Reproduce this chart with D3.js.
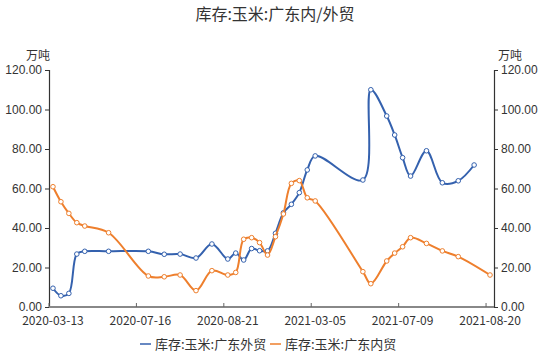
<!DOCTYPE html>
<html>
<head>
<meta charset="utf-8">
<script src="https://cdn.jsdelivr.net/npm/d3@7"></script>
<style>
  body { margin: 0; background: #fff; }
  svg { font-family: "Noto Sans CJK SC", "Noto Sans", sans-serif; }
</style>
</head>
<body>
<div id="chart"></div>
<script>
// categories: 56 dates on a category axis, only every 11th one is labelled
var nCategories = 56;
var tickIndex = [0, 11, 22, 33, 44, 55];
var tickLabels = ["2020-03-13", "2020-07-16", "2020-08-21", "2021-03-05", "2021-07-09", "2021-08-20"];
var yTicks = [0, 20, 40, 60, 80, 100, 120];

var seriesNames = ["库存:玉米:广东外贸", "库存:玉米:广东内贸"];
var seriesColors = ["#3461ae", "#ee7f2d"];

// 外贸 (blue), indexed by category, null = no reading
var foreignTrade = [9.5, 5.7, 6.9, 26.8, 28.2, null, null, 28.2, null, null,
  null, null, 28.2, null, 26.7, null, 26.8, null, 24.8, null,
  31.9, null, 24.3, 27.3, 23.8, 29.6, 28.5, 28.4, 37.3, 47.7,
  52.0, 57.9, 69.4, 76.5, null, null, null, null, null, 64.3,
  110.0, null, 96.7, 87.1, 75.6, 66.3, null, 79.1, null, 62.9,
  null, 63.9, null, 71.9, null, null];

// 内贸 (orange)
var domesticTrade = [60.9, 53.3, 47.4, 42.7, 41.0, null, null, 37.6, null, null,
  null, null, 15.7, null, 15.3, null, 16.2, null, 8.3, null,
  18.4, null, 16.2, 17.5, 34.3, 35.1, 32.6, 26.3, 35.6, 47.1,
  62.6, 64.0, 55.3, 53.7, null, null, null, null, null, 17.9,
  11.8, null, 23.3, 27.3, 30.5, 35.1, null, 32.2, null, 28.4,
  null, 25.5, null, null, null, 16.2];

var width = 550, height = 352;
var margin = { left: 49, right: 56, top: 70, bottom: 45 };
var x0 = margin.left, x1 = width - margin.right;
var y0 = height - margin.bottom, y1 = margin.top;

var svg = d3.select("#chart").append("svg")
  .attr("width", width)
  .attr("height", height);

var x = d3.scalePoint()
  .domain(d3.range(nCategories))
  .range([x0, x1])
  .padding(0.5);
var step = x.step();

var y = d3.scaleLinear().domain([0, 120]).range([y0, y1]);

// title
svg.append("text")
  .attr("x", 275).attr("y", 20)
  .attr("text-anchor", "middle")
  .style("font-size", "16px")
  .style("fill", "#333")
  .text("库存:玉米:广东内/外贸");

// y axes
var fmt = d => d.toFixed(2);
var leftAxis = svg.append("g")
  .attr("transform", `translate(${x0},0)`)
  .call(d3.axisLeft(y).tickValues(yTicks).tickFormat(fmt).tickSize(4).tickPadding(3));
var rightAxis = svg.append("g")
  .attr("transform", `translate(${x1},0)`)
  .call(d3.axisRight(y).tickValues(yTicks).tickFormat(fmt).tickSize(4).tickPadding(3));

[leftAxis, rightAxis].forEach(g => {
  g.select(".domain").attr("stroke", "#333").attr("stroke-width", 1.2);
  g.selectAll(".tick line").attr("stroke", "#333");
  g.selectAll(".tick text").style("font-size", "12px").style("fill", "#333").style("font-family", "inherit");
});

// units
svg.append("text").attr("x", 38).attr("y", 60).attr("text-anchor", "middle")
  .style("font-size", "12px").style("fill", "#333").text("万吨");
svg.append("text").attr("x", 510).attr("y", 60).attr("text-anchor", "middle")
  .style("font-size", "12px").style("fill", "#333").text("万吨");

// x axis: ticks on category boundaries, labels on category centres
var xAxis = svg.append("g").attr("class", "x-axis");
xAxis.append("line")
  .attr("x1", x0).attr("x2", x1)
  .attr("y1", y0).attr("y2", y0)
  .attr("stroke", "#888").attr("stroke-width", 2);
xAxis.selectAll(".xtick")
  .data(tickIndex)
  .join("line")
  .attr("class", "xtick")
  .attr("x1", d => x(d) - step / 2).attr("x2", d => x(d) - step / 2)
  .attr("y1", y0).attr("y2", y0 - 4)
  .attr("stroke", "#666");
xAxis.selectAll(".xlabel")
  .data(tickIndex)
  .join("text")
  .attr("class", "xlabel")
  .attr("x", d => x(d))
  .attr("y", y0 + 18)
  .attr("text-anchor", "middle")
  .style("font-size", "12px")
  .style("fill", "#333")
  .text((d, i) => tickLabels[i]);

// lines
var line = d3.line()
  .x(d => x(d.i))
  .y(d => y(d.v))
  .curve(d3.curveCatmullRom.alpha(0.5));

[foreignTrade, domesticTrade].forEach((values, k) => {
  var pts = values.map((v, i) => ({ i: i, v: v })).filter(d => d.v != null);
  var g = svg.append("g");
  g.append("path")
    .datum(pts)
    .attr("d", line)
    .attr("fill", "none")
    .attr("stroke", seriesColors[k])
    .attr("stroke-width", 2);
  g.selectAll("circle")
    .data(pts)
    .join("circle")
    .attr("cx", d => x(d.i))
    .attr("cy", d => y(d.v))
    .attr("r", 2.3)
    .attr("fill", "#fff")
    .attr("stroke", seriesColors[k])
    .attr("stroke-width", 1);
});

// legend
var legend = svg.append("g").attr("transform", "translate(140,344)");
var legendX = [0, 130];
seriesNames.forEach((name, k) => {
  var item = legend.append("g").attr("transform", `translate(${legendX[k]},0)`);
  item.append("line")
    .attr("x1", 0).attr("x2", 11)
    .attr("y1", 0).attr("y2", 0)
    .attr("stroke", seriesColors[k]).attr("stroke-width", 1.5);
  item.append("text")
    .attr("x", 15).attr("y", 4.5)
    .style("font-size", "13px")
    .style("fill", "#333")
    .text(name);
});
</script>
</body>
</html>
